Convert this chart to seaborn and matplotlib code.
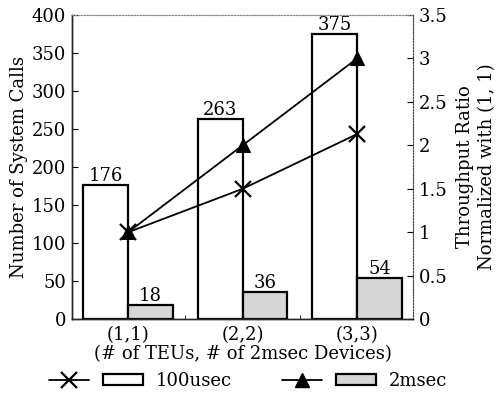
import numpy as np
import pandas as pd
import matplotlib
matplotlib.use("Agg")
import matplotlib.pyplot as plt
import seaborn as sns
from matplotlib.ticker import FormatStrFormatter, FixedLocator
from matplotlib.legend_handler import HandlerTuple
from matplotlib.lines import Line2D
from matplotlib.patches import Patch

# -----------------------------
# Data
# -----------------------------
configs = ["(1,1)", "(2,2)", "(3,3)"]
calls_100usec = [176, 263, 375]
calls_2msec = [18, 36, 54]
ratio_100usec = [1.0, 1.5, 2.13]
ratio_2msec = [1.0, 2.0, 3.0]

df = pd.DataFrame({
    "config": configs * 2,
    "calls": calls_100usec + calls_2msec,
    "series": ["100usec"] * 3 + ["2msec"] * 3,
})

sns.set_style("ticks")
plt.rcParams["font.family"] = ["DejaVu Serif"]
plt.rcParams["font.size"] = 13
plt.rcParams["text.color"] = "black"
plt.rcParams["axes.labelcolor"] = "black"
plt.rcParams["xtick.color"] = "black"
plt.rcParams["ytick.color"] = "black"

FS = 13

fig = plt.figure(figsize=(4.96, 3.96), dpi=100)
ax = fig.add_axes([0.145, 0.194, 0.688, 0.768])

# -----------------------------
# Bars: number of system calls
# -----------------------------
sns.barplot(
    data=df, x="config", y="calls", hue="series",
    palette=["white", "#d6d6d6"], edgecolor="black", linewidth=1.6,
    width=0.78, ax=ax, legend=False,
)
for cont in ax.containers:
    ax.bar_label(cont, padding=0, fontsize=FS)

ax.set_ylim(0, 400)
ax.set_xlim(-0.49, 2.49)
ax.set_yticks(range(0, 401, 50))
ax.set_ylabel("Number of System Calls", fontsize=FS, labelpad=3)
ax.set_xlabel("(# of TEUs, # of 2msec Devices)", fontsize=FS, labelpad=1)
ax.tick_params(axis="y", direction="in", length=4, labelsize=FS, pad=4)
ax.tick_params(axis="x", length=0, labelsize=FS, pad=5)
ax.xaxis.set_minor_locator(FixedLocator([0.5, 1.5]))
ax.tick_params(axis="x", which="minor", direction="in", length=3)

# -----------------------------
# Lines: normalized throughput ratio
# -----------------------------
ax2 = ax.twinx()
xs = np.arange(len(configs))
sns.lineplot(x=xs, y=ratio_100usec, color="black", marker="x", markersize=12,
             markeredgewidth=1.6, markeredgecolor="black", linewidth=1.3, ax=ax2)
sns.lineplot(x=xs, y=ratio_2msec, color="black", marker="^", markersize=10,
             markeredgecolor="black", linewidth=1.3, ax=ax2)
ax2.set_ylim(0, 3.5)
ax2.set_yticks(np.arange(0, 3.51, 0.5))
ax2.yaxis.set_major_formatter(FormatStrFormatter("%g"))
ax2.tick_params(axis="y", direction="in", length=4, labelsize=FS, pad=4)
ax2.set_ylabel("Throughput Ratio\nNormalized with (1, 1)", fontsize=FS,
               linespacing=1.3, labelpad=6)

for a in (ax, ax2):
    a.spines["top"].set_color("#888888")
    a.spines["top"].set_linestyle(":")
    a.spines["right"].set_color("#444444")
    a.spines["right"].set_linestyle(":")
    a.spines["left"].set_linewidth(1.0)
    a.spines["bottom"].set_linewidth(1.0)

# -----------------------------
# Legend
# -----------------------------
h1 = (Line2D([], [], color="black", marker="x", markersize=11, markeredgewidth=1.6, linewidth=1.3),
      Patch(facecolor="white", edgecolor="black", linewidth=1.6))
h2 = (Line2D([], [], color="black", marker="^", markersize=10, linewidth=1.3),
      Patch(facecolor="#d6d6d6", edgecolor="black", linewidth=1.6))
fig.legend([h1, h2], ["100usec", "2msec"], ncol=2, loc="lower center",
           bbox_to_anchor=(0.5, -0.025), frameon=False, fontsize=FS,
           handlelength=5.2, handleheight=0.55, columnspacing=2.8,
           handletextpad=0.7,
           handler_map={tuple: HandlerTuple(ndivide=None, pad=0.8)})

fig.savefig("out.png", dpi=100)
